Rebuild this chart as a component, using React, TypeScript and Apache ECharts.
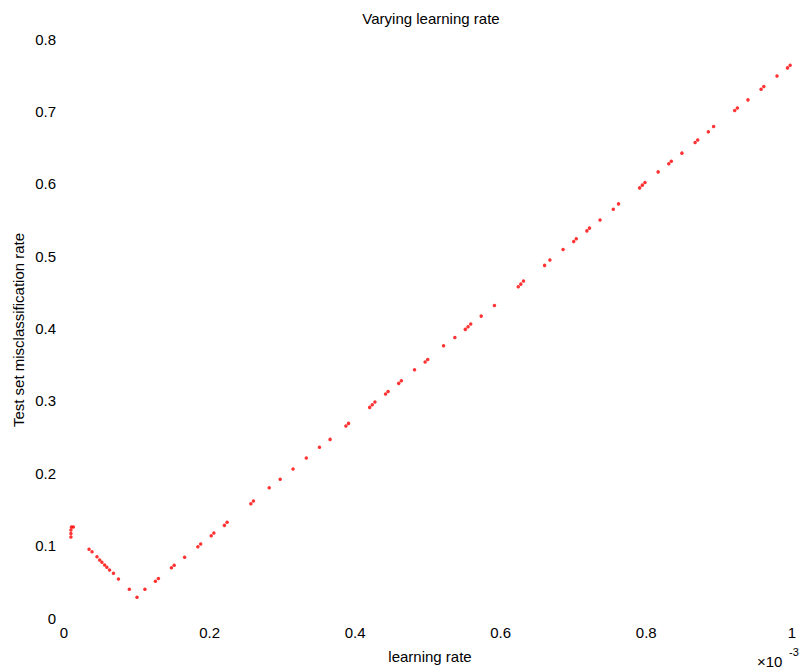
import React, { useEffect, useRef } from "react";
import * as echarts from "echarts";

const titleText = "Varying learning rate";
const xAxisTitle = "learning rate";
const yAxisTitle = "Test set misclassification rate";
const xTicks = [0, 0.2, 0.4, 0.6, 0.8, 1];
const yTicks = [0, 0.1, 0.2, 0.3, 0.4, 0.5, 0.6, 0.7, 0.8];

// learning rate (x10^-3)
const learningRate = [
  0.0095, 0.0095, 0.0095, 0.0102, 0.0129, 0.0344, 0.0385, 0.0453, 0.049, 0.0521,
  0.0558, 0.0589, 0.0626, 0.068, 0.0748, 0.0898, 0.1003, 0.1112, 0.1256, 0.1297,
  0.1476, 0.1514, 0.1657, 0.1839, 0.1878, 0.2023, 0.2059, 0.2204, 0.2241, 0.2567,
  0.2603, 0.282, 0.297, 0.3147, 0.3329, 0.351, 0.3656, 0.3873, 0.3909, 0.42,
  0.4235, 0.4272, 0.4418, 0.4453, 0.4599, 0.4635, 0.4816, 0.4962, 0.4997, 0.5215,
  0.537, 0.5514, 0.5551, 0.5588, 0.5732, 0.5914, 0.6241, 0.6276, 0.6313, 0.6603,
  0.6676, 0.6857, 0.7003, 0.7038, 0.7184, 0.722, 0.7365, 0.7547, 0.7619, 0.7909,
  0.7946, 0.7982, 0.8163, 0.8309, 0.8344, 0.849, 0.8671, 0.8707, 0.8853, 0.8925,
  0.9215, 0.9252, 0.9397, 0.9578, 0.9615, 0.9796, 0.9941, 0.9977,
];

const errorRate = [
  0.1119, 0.1167, 0.1215, 0.1257, 0.1257, 0.095, 0.0916, 0.0847, 0.0801, 0.0769,
  0.0732, 0.07, 0.0663, 0.0618, 0.0539, 0.0396, 0.0286, 0.0396, 0.0507, 0.0546,
  0.0693, 0.0729, 0.084, 0.0985, 0.1022, 0.1137, 0.1174, 0.128, 0.1322, 0.1579,
  0.1616, 0.18, 0.1916, 0.2058, 0.221, 0.2358, 0.2468, 0.2652, 0.2689, 0.291,
  0.2946, 0.2983, 0.3094, 0.3131, 0.3242, 0.3278, 0.343, 0.3536, 0.3573, 0.3761,
  0.3877, 0.3988, 0.4024, 0.4061, 0.4171, 0.4319, 0.4576, 0.4613, 0.4655, 0.4872,
  0.4945, 0.5093, 0.5203, 0.5239, 0.5349, 0.5387, 0.55, 0.5649, 0.5722, 0.5943,
  0.5981, 0.6018, 0.6164, 0.6275, 0.6312, 0.6423, 0.657, 0.6606, 0.6717, 0.6791,
  0.7012, 0.7048, 0.7159, 0.7307, 0.7344, 0.749, 0.7601, 0.7638,
];

const FONT = "'Liberation Sans', Arial, sans-serif";

export default function App() {
  const ref = useRef<HTMLDivElement>(null);

  useEffect(() => {
    if (!ref.current) return;
    const chart = echarts.init(ref.current, null, { renderer: "svg" });
    const data = learningRate.map((x, i) => [x, errorRate[i]]);
    const fmt = (v: number) => String(Math.round(v * 10) / 10);
    chart.setOption({
      animation: false,
      backgroundColor: "#ffffff",
      textStyle: { fontFamily: FONT },
      grid: { left: 64, right: 0, top: 39, bottom: 52, containLabel: false },
      xAxis: {
        type: "value",
        min: xTicks[0],
        max: xTicks[xTicks.length - 1],
        interval: 0.2,
        axisLine: { show: false },
        axisTick: { show: false },
        splitLine: { show: false },
        axisLabel: {
          margin: 7,
          color: "#000",
          fontSize: 15,
          fontFamily: FONT,
          formatter: fmt,
          showMaxLabel: true,
          showMinLabel: true,
        },
      },
      yAxis: {
        type: "value",
        min: yTicks[0],
        max: yTicks[yTicks.length - 1],
        interval: 0.1,
        axisLine: { show: false },
        axisTick: { show: false },
        splitLine: { show: false },
        axisLabel: {
          margin: 8,
          color: "#000",
          fontSize: 15,
          fontFamily: FONT,
          formatter: fmt,
        },
      },
      graphic: [
        {
          type: "text",
          x: 431,
          y: 18,
          style: {
            text: titleText,
            fill: "#000",
            font: `15px ${FONT}`,
            textAlign: "center",
            textVerticalAlign: "middle",
          },
        },
        {
          type: "text",
          x: 430,
          y: 656,
          style: {
            text: xAxisTitle,
            fill: "#000",
            font: `15px ${FONT}`,
            textAlign: "center",
            textVerticalAlign: "middle",
          },
        },
        {
          type: "text",
          x: 18,
          y: 330,
          rotation: Math.PI / 2,
          style: {
            text: yAxisTitle,
            fill: "#000",
            font: `15px ${FONT}`,
            textAlign: "center",
            textVerticalAlign: "middle",
          },
        },
        {
          type: "text",
          x: 757,
          y: 661,
          style: {
            text: "×10",
            fill: "#000",
            font: `15px ${FONT}`,
            textAlign: "left",
            textVerticalAlign: "middle",
          },
        },
        {
          type: "text",
          x: 789,
          y: 652,
          style: {
            text: "-3",
            fill: "#000",
            font: `11px ${FONT}`,
            textAlign: "left",
            textVerticalAlign: "middle",
          },
        },
      ],
      series: [
        {
          type: "scatter",
          data,
          symbol: "circle",
          symbolSize: 3.5,
          itemStyle: { color: "#ff0000" },
        },
      ],
    });
    return () => chart.dispose();
  }, []);

  return (
    <div
      ref={ref}
      style={{ position: "absolute", left: 0, top: 0, width: 799, height: 670 }}
    />
  );
}
